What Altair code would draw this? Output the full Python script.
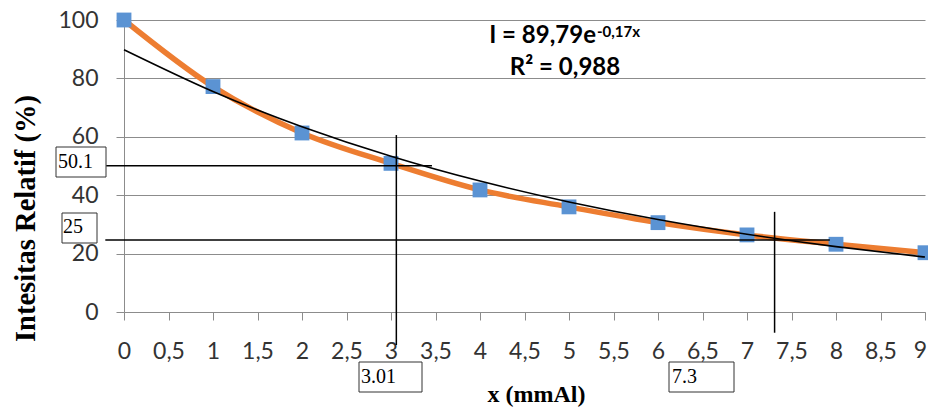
import altair as alt
import pandas as pd

# ---- data ----
x_vals = [0, 1, 2, 3, 4, 5, 6, 7, 8, 9]
intensity = [100, 77.2, 61.3, 50.9, 41.8, 36.0, 30.6, 26.4, 23.2, 20.3]

x_ticks = [0, 0.5, 1, 1.5, 2, 2.5, 3, 3.5, 4, 4.5, 5, 5.5, 6, 6.5, 7, 7.5, 8, 8.5, 9]
y_ticks = [0, 20, 40, 60, 80, 100]

# reference (read-off) lines
h_ref_y = [50.1, 24.7]
h_ref_start = [-0.2, -0.21]
h_ref_end = [3.46, 7.93]
v_ref_x = [3.06, 7.31]
v_ref_top = [60.6, 34.3]
v_ref_bottom = [-11.3, -7.1]

eq_main = ["I = 89,79e"]
eq_sup = ["-0,17x"]
eq_r2 = ["R² = 0,988"]

# ---- chart ----
df = pd.DataFrame({"x": x_vals, "y": intensity})
hdf = pd.DataFrame({"y": h_ref_y, "x0": h_ref_start, "x1": h_ref_end})
vdf = pd.DataFrame({"x": v_ref_x, "y0": v_ref_top, "y1": v_ref_bottom})
last_tick = pd.DataFrame({"x": [x_ticks[-1]]})

GRID = "#8c8c8c"
LABEL_COLOR = "#333333"
xs = alt.Scale(domain=[0, 9], nice=False)
ys = alt.Scale(domain=[0, 100], nice=False)

xaxis = alt.Axis(
    values=x_ticks,
    labelExpr=f"datum.value == {x_ticks[-1]} ? '' : replace(toString(datum.value), '.', ',')",
    grid=False, domainColor=GRID, tickColor=GRID, tickSize=8,
    labelFont="Lato", labelFontSize=23, labelColor=LABEL_COLOR, labelPadding=20,
    labelFlush=False, labelOverlap=False,
    title="x (mmAl)", titleFont="Liberation Serif", titleFontSize=24,
    titleFontWeight="bold", titleColor="black",
    titleX=412, titleY=82, titleAlign="center", titleBaseline="middle",
)
yaxis = alt.Axis(
    values=y_ticks,
    grid=True, gridColor=GRID, domainColor=GRID, tickColor=GRID, tickSize=8,
    labelFont="Lato", labelFontSize=23, labelColor=LABEL_COLOR, labelPadding=18,
    title="Intesitas Relatif  (%)", titleFont="Liberation Serif", titleFontSize=28.5,
    titleFontWeight="bold", titleColor="black",
    titleAngle=270, titleX=-99, titleY=198, titleAlign="center", titleBaseline="middle",
)

X = lambda f: alt.X(f, type="quantitative", scale=xs, axis=xaxis)
Y = lambda f: alt.Y(f, type="quantitative", scale=ys, axis=yaxis)

series = alt.Chart(df).mark_line(
    color="#ED7D31", strokeWidth=5.5, interpolate="monotone"
).encode(x=X("x"), y=Y("y"))

points = alt.Chart(df).mark_square(
    size=220, color="#5B93D3", opacity=1
).encode(x=X("x"), y=Y("y"))

# exponential trendline: least-squares fit of ln(y) on x, computed by Vega
trend = (
    alt.Chart(df)
    .transform_calculate(lny="log(datum.y)")
    .transform_joinaggregate(mx="mean(x)", mly="mean(lny)")
    .transform_calculate(
        dxy="(datum.x - datum.mx) * (datum.lny - datum.mly)",
        dxx="(datum.x - datum.mx) * (datum.x - datum.mx)",
    )
    .transform_joinaggregate(sxy="sum(dxy)", sxx="sum(dxx)")
    .transform_calculate(fit="exp(datum.mly + datum.sxy / datum.sxx * (datum.x - datum.mx))")
    .mark_line(color="black", strokeWidth=1.6, interpolate="natural")
    .encode(x=X("x"), y=Y("fit"))
)

hrules = alt.Chart(hdf).mark_rule(color="black", strokeWidth=1.5).encode(
    x=X("x0"), x2="x1", y=Y("y")
)
vrules = alt.Chart(vdf).mark_rule(color="black", strokeWidth=1.5).encode(
    x=X("x"), y=Y("y0"), y2="y1"
)

# last x tick label, nudged so that it stays inside the page
last_label = alt.Chart(last_tick).transform_calculate(
    t="replace(toString(datum.x), '.', ',')"
).mark_text(
    font="Lato", fontSize=23, color=LABEL_COLOR, align="right", baseline="top", dx=2
).encode(x=X("x"), y=alt.value(292 + 8 + 20), text="t:N")


def box(label, x0, x1, y0, y1, tx, ty):
    d = pd.DataFrame({"t": [label]})
    r = alt.Chart(d).mark_rect(fill="white", stroke="#333333", strokeWidth=1).encode(
        x=alt.value(x0), x2=alt.value(x1), y=alt.value(y0), y2=alt.value(y1)
    )
    t = alt.Chart(d).mark_text(
        font="Liberation Serif", fontSize=20, align="left", baseline="alphabetic", color="black"
    ).encode(x=alt.value(tx), y=alt.value(ty), text="t:N")
    return r + t


def label(txt, x, y, size, align):
    d = pd.DataFrame({"t": txt})
    return alt.Chart(d).mark_text(
        font="Lato", fontWeight="bold", fontSize=size, align=align,
        baseline="alphabetic", color="black"
    ).encode(x=alt.value(x), y=alt.value(y), text="t:N")


chart = alt.layer(
    series, points, trend, hrules, vrules, last_label,
    box("50.1", -68, -18, 127, 157, -66, 148),
    box("25", -62, -27, 193, 223, -61, 213),
    box("3.01", 235, 298, 342, 372, 237, 363),
    box("7.3", 545, 610, 342, 372, 548, 363),
    label(eq_main, 472, 23, 24, "right"),
    label(eq_sup, 473, 17, 15, "left"),
    label(eq_r2, 441, 55, 24, "center"),
).properties(
    width=801, height=292,
    autosize=alt.AutoSizeParams(type="none"),
    padding={"left": 116, "top": 12, "right": 3, "bottom": 96},
    background="white",
).configure_view(strokeWidth=0)

chart.save("out.html", embed_options={"renderer": "svg", "actions": False})
